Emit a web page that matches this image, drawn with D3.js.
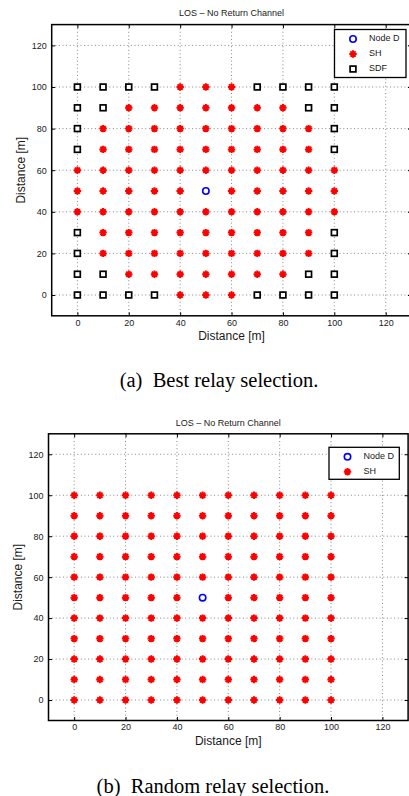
<!DOCTYPE html>
<html>
<head>
<meta charset="utf-8">
<script src="https://cdn.jsdelivr.net/npm/d3@7"></script>
<style>
  html, body { margin: 0; padding: 0; background: #fff; }
  svg { display: block; }
  text { font-family: "Liberation Sans", Arial, Helvetica, sans-serif; fill: #1a1a1a; }
  .caption { font-family: "Liberation Serif", "Times New Roman", serif; fill: #000; }
</style>
</head>
<body>
<svg id="fig" width="409" height="796"></svg>
<script>
// Relay grid coordinates (metres)
const xPositions = [0, 10, 20, 30, 40, 50, 60, 70, 80, 90, 100];
const yPositions = [100, 90, 80, 70, 60, 50, 40, 30, 20, 10, 0];

// Selected scheme per grid cell, one string per row (top row = 100 m).
// H = SH, F = SDF, D = destination node
const bestRelayRows = [
  "FFFFHHHFFFF",
  "FFHHHHHHHFF",
  "FHHHHHHHHHF",
  "FHHHHHHHHHF",
  "HHHHHHHHHHH",
  "HHHHHDHHHHH",
  "HHHHHHHHHHH",
  "FHHHHHHHHHF",
  "FHHHHHHHHHF",
  "FFHHHHHHHFF",
  "FFFFHHHFFFF"
];
const randomRelayRows = [
  "HHHHHHHHHHH",
  "HHHHHHHHHHH",
  "HHHHHHHHHHH",
  "HHHHHHHHHHH",
  "HHHHHHHHHHH",
  "HHHHHDHHHHH",
  "HHHHHHHHHHH",
  "HHHHHHHHHHH",
  "HHHHHHHHHHH",
  "HHHHHHHHHHH",
  "HHHHHHHHHHH"
];

const axisDomain = [-10, 130];
const tickValues = [0, 20, 40, 60, 80, 100, 120];
const seriesNames = { D: "Node D", H: "SH", F: "SDF" };
const chartTitle = "LOS \u2013 No Return Channel";
const axisLabel = "Distance [m]";
const captions = ["(a)\u2002Best relay selection.", "(b)\u2002Random relay selection."];

const svg = d3.select("#fig");

function cellsFromRows(rows) {
  const cells = [];
  rows.forEach((row, i) => {
    row.split("").forEach((code, j) => {
      cells.push({ x: xPositions[j], y: yPositions[i], code });
    });
  });
  return cells;
}

function drawMarker(g, code) {
  if (code === "H") {
    const r = 3.7;
    const d = r * Math.SQRT1_2;
    g.append("path")
      .attr("d", `M${-r},0L${r},0M0,${-r}L0,${r}M${-d},${-d}L${d},${d}M${-d},${d}L${d},${-d}`)
      .attr("stroke", "#ff0000").attr("stroke-width", 2).attr("fill", "none");
    g.append("circle").attr("r", 2.3).attr("fill", "#ff0000");
  } else if (code === "F") {
    g.append("rect").attr("x", -2.9).attr("y", -2.9).attr("width", 5.8).attr("height", 5.8)
      .attr("fill", "#fff").attr("stroke", "#000").attr("stroke-width", 1.7);
  } else if (code === "D") {
    g.append("circle").attr("r", 3.2)
      .attr("fill", "none").attr("stroke", "#0000ff").attr("stroke-width", 1.6);
  }
}

function drawPanel(p) {
  const x = d3.scaleLinear().domain(axisDomain).range([p.left, p.right]);
  const y = d3.scaleLinear().domain(axisDomain).range([p.bottom, p.top]);
  const g = svg.append("g");

  // dotted grid
  const grid = g.append("g")
    .attr("stroke", "#555").attr("stroke-width", 0.7).attr("stroke-dasharray", "1,2.6");
  tickValues.forEach(v => {
    grid.append("line").attr("x1", x(v)).attr("x2", x(v)).attr("y1", p.top).attr("y2", p.bottom);
    grid.append("line").attr("y1", y(v)).attr("y2", y(v)).attr("x1", p.left).attr("x2", p.right);
  });

  // axes with inward ticks on all four sides
  const tickLen = 3.5;
  const xb = d3.axisBottom(x).tickValues(tickValues).tickSizeInner(-tickLen).tickSizeOuter(0).tickPadding(3.5);
  const xt = d3.axisTop(x).tickValues(tickValues).tickSizeInner(-tickLen).tickSizeOuter(0).tickFormat("");
  const yl = d3.axisLeft(y).tickValues(tickValues).tickSizeInner(-tickLen).tickSizeOuter(0).tickPadding(5);
  const yr = d3.axisRight(y).tickValues(tickValues).tickSizeInner(-tickLen).tickSizeOuter(0).tickFormat("");
  [[xb, `translate(0,${p.bottom})`], [xt, `translate(0,${p.top})`],
   [yl, `translate(${p.left},0)`], [yr, `translate(${p.right},0)`]].forEach(([ax, tr]) => {
    const a = g.append("g").attr("transform", tr).call(ax);
    a.select(".domain").remove();
    a.selectAll(".tick line").attr("stroke", "#000").attr("stroke-width", 1);
    a.selectAll(".tick text").attr("font-size", 9)
      .attr("font-family", "'Liberation Sans', Arial, sans-serif").attr("fill", "#222");
  });

  // data markers
  const cells = cellsFromRows(p.rows);
  cells.forEach(c => {
    const mg = g.append("g").attr("transform", `translate(${x(c.x)},${y(c.y)})`);
    drawMarker(mg, c.code);
  });

  // axes box
  g.append("rect")
    .attr("x", p.left).attr("y", p.top)
    .attr("width", p.right - p.left).attr("height", p.bottom - p.top)
    .attr("fill", "none").attr("stroke", "#000").attr("stroke-width", 1.5);

  // title and axis labels
  const cx = (p.left + p.right) / 2;
  g.append("text").attr("x", cx).attr("y", p.top - 10.5).attr("text-anchor", "middle")
    .attr("dominant-baseline", "middle").attr("font-size", 9).text(chartTitle);
  g.append("text").attr("x", cx).attr("y", p.bottom + 24.5).attr("text-anchor", "middle")
    .attr("font-size", 12).attr("fill", "#000").text(axisLabel);
  g.append("text")
    .attr("transform", `translate(${p.left - 29.5},${(p.top + p.bottom) / 2}) rotate(-90)`)
    .attr("text-anchor", "middle").attr("dominant-baseline", "middle")
    .attr("font-size", 12).attr("fill", "#000").text(axisLabel);

  // legend
  const codes = p.legendCodes;
  const lg = g.append("g");
  lg.append("rect")
    .attr("x", p.legend.x).attr("y", p.legend.y)
    .attr("width", p.legend.w).attr("height", p.legend.h)
    .attr("fill", "#fff").attr("stroke", "#000").attr("stroke-width", 1.3);
  codes.forEach((code, i) => {
    const ry = p.legend.y + 9.5 + i * 15;
    const mg = lg.append("g").attr("transform", `translate(${p.legend.x + 18.5},${ry})`);
    drawMarker(mg, code);
    lg.append("text").attr("x", p.legend.x + 34.5).attr("y", ry)
      .attr("dominant-baseline", "middle").attr("font-size", 9).text(seriesNames[code]);
  });

  // caption
  svg.append("text").attr("class", "caption")
    .attr("x", p.captionX).attr("y", p.captionY).attr("text-anchor", "middle")
    .attr("font-size", 20.5).text(p.caption);
}

drawPanel({
  rows: bestRelayRows,
  left: 51.7, right: 411.4, top: 24.6, bottom: 315.8,
  legend: { x: 334.5, y: 29.5, w: 71.5, h: 48 },
  legendCodes: ["D", "H", "F"],
  caption: captions[0], captionX: 219, captionY: 387
});

drawPanel({
  rows: randomRelayRows,
  left: 48.5, right: 408.1, top: 433.8, bottom: 720.5,
  legend: { x: 329, y: 447.3, w: 70.3, h: 32 },
  legendCodes: ["D", "H"],
  caption: captions[1], captionX: 213, captionY: 793
});
</script>
</body>
</html>
